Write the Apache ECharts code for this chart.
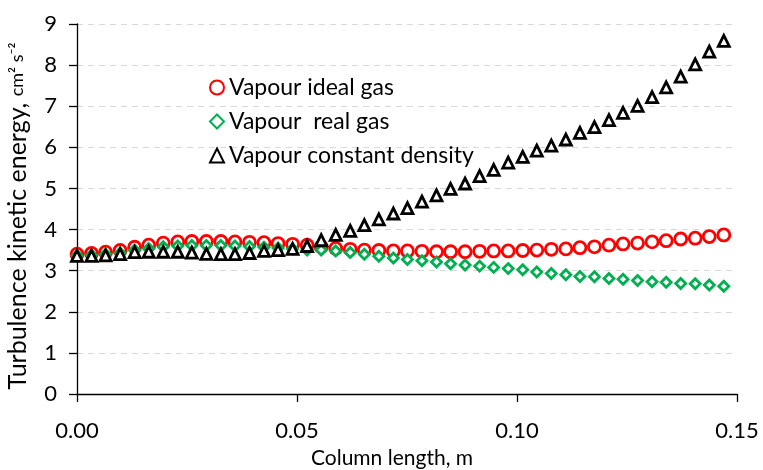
<!DOCTYPE html>
<html>
<head>
<meta charset="utf-8">
<script src="https://cdn.jsdelivr.net/npm/echarts@6/dist/echarts.min.js"></script>
<style>
  html, body { margin: 0; padding: 0; background: #fff; }
  #chart { width: 763px; height: 470px; }
</style>
</head>
<body>
<div id="chart"></div>
<script>
// Column positions along the column (m)
const columnLength = [
  0.0000, 0.0033, 0.0065, 0.0098, 0.0131, 0.0163, 0.0196, 0.0229, 0.0261, 0.0294,
  0.0327, 0.0359, 0.0392, 0.0425, 0.0457, 0.0490, 0.0523, 0.0555, 0.0588, 0.0621,
  0.0653, 0.0686, 0.0719, 0.0751, 0.0784, 0.0817, 0.0849, 0.0882, 0.0915, 0.0947,
  0.0980, 0.1013, 0.1045, 0.1078, 0.1111, 0.1143, 0.1176, 0.1209, 0.1241, 0.1274,
  0.1307, 0.1339, 0.1372, 0.1405, 0.1437, 0.1470
];

// Turbulence kinetic energy (cm2 s-2) for each vapour model
const idealGas = [
  3.40, 3.42, 3.45, 3.49, 3.57, 3.62, 3.67, 3.70, 3.71, 3.71,
  3.71, 3.70, 3.69, 3.68, 3.66, 3.64, 3.62, 3.58, 3.54, 3.52,
  3.50, 3.49, 3.48, 3.48, 3.47, 3.46, 3.46, 3.46, 3.47, 3.48,
  3.48, 3.49, 3.50, 3.52, 3.53, 3.56, 3.58, 3.62, 3.65, 3.67,
  3.70, 3.73, 3.77, 3.79, 3.83, 3.87
];
const realGas = [
  3.37, 3.38, 3.40, 3.43, 3.50, 3.54, 3.58, 3.60, 3.61, 3.61,
  3.61, 3.60, 3.59, 3.57, 3.55, 3.53, 3.50, 3.50, 3.48, 3.44,
  3.40, 3.35, 3.31, 3.27, 3.24, 3.21, 3.17, 3.14, 3.11, 3.08,
  3.05, 3.02, 2.97, 2.93, 2.90, 2.86, 2.85, 2.81, 2.79, 2.76,
  2.73, 2.72, 2.69, 2.68, 2.65, 2.62
];
const constantDensity = [
  3.36, 3.36, 3.37, 3.40, 3.45, 3.46, 3.46, 3.46, 3.44, 3.41,
  3.40, 3.40, 3.43, 3.48, 3.50, 3.53, 3.60, 3.74, 3.87, 3.97,
  4.11, 4.25, 4.39, 4.52, 4.68, 4.83, 4.99, 5.12, 5.30, 5.45,
  5.63, 5.77, 5.92, 6.04, 6.19, 6.35, 6.49, 6.66, 6.84, 7.01,
  7.22, 7.46, 7.72, 8.02, 8.33, 8.59
];

const seriesNames = ['Vapour ideal gas', 'Vapour  real gas', 'Vapour constant density'];
const xTitle = 'Column length, m';
const yTitleMain = 'Turbulence kinetic energy, ';
const yTitleUnit = 'cm\u00B2 s\u207B\u00B2';

const FONT = 'Lato, "Open Sans", sans-serif';

function pairs(ys) {
  return ys.map((v, i) => [columnLength[i], v]);
}

// hollow marker style: white fill, coloured outline
function hollow(color) {
  return { color: '#ffffff', borderColor: color, borderWidth: 2.8, opacity: 1 };
}

const chart = echarts.init(document.getElementById('chart'), null, { renderer: 'canvas' });

chart.setOption({
  backgroundColor: '#ffffff',
  animation: false,
  textStyle: { fontFamily: FONT, color: '#000' },
  grid: { left: 77, right: 26, top: 24, bottom: 76, containLabel: false, outerBoundsMode: 'none' },
  legend: {
    orient: 'vertical',
    left: 204,
    top: 71,
    itemGap: 11,
    itemWidth: 14,
    itemHeight: 14,
    textStyle: { fontFamily: FONT, fontSize: 23, color: '#000' },
    data: seriesNames
  },
  xAxis: {
    type: 'value',
    min: 0,
    max: 0.15,
    interval: 0.05,
    name: xTitle,
    nameLocation: 'middle',
    nameGap: 54,
    nameTextStyle: { fontFamily: FONT, fontSize: 21, color: '#000', padding: [0, 30, 0, 0] },
    axisLine: { show: true, lineStyle: { color: '#000', width: 1.3 } },
    axisTick: { show: true, inside: false, length: 8, lineStyle: { color: '#000', width: 1.3 } },
    axisLabel: {
      margin: 26,
      fontFamily: FONT,
      fontSize: 22,
      color: '#000',
      formatter: v => v.toFixed(2)
    },
    splitLine: { show: false }
  },
  yAxis: {
    type: 'value',
    min: 0,
    max: 9,
    interval: 1,
    name: '{m|' + yTitleMain + '}{u|' + yTitleUnit + '}',
    nameLocation: 'middle',
    nameGap: 47,
    nameRotate: 90,
    nameTextStyle: {
      color: '#000',
      padding: [0, 14, 0, 0],
      rich: {
        m: { fontFamily: FONT, fontSize: 25, color: '#000' },
        u: { fontFamily: FONT, fontSize: 18, color: '#000' }
      }
    },
    axisLine: { show: true, lineStyle: { color: '#000', width: 1.3 } },
    axisTick: { show: true, inside: false, length: 8, lineStyle: { color: '#000', width: 1.3 } },
    axisLabel: { margin: 20, fontFamily: FONT, fontSize: 22, color: '#000' },
    splitLine: {
      show: true,
      lineStyle: { color: '#d9d9d9', width: 1, type: [6, 5] }
    }
  },
  series: [
    {
      name: seriesNames[0],
      type: 'scatter',
      symbol: 'circle',
      symbolSize: 12,
      itemStyle: hollow('#ff0000'),
      data: pairs(idealGas),
      z: 2
    },
    {
      name: seriesNames[1],
      type: 'scatter',
      symbol: 'diamond',
      symbolSize: 10,
      itemStyle: hollow('#00b050'),
      data: pairs(realGas),
      z: 3
    },
    {
      name: seriesNames[2],
      type: 'scatter',
      symbol: 'triangle',
      symbolSize: 11,
      itemStyle: hollow('#000000'),
      data: pairs(constantDensity),
      z: 4
    }
  ]
});
</script>
</body>
</html>
